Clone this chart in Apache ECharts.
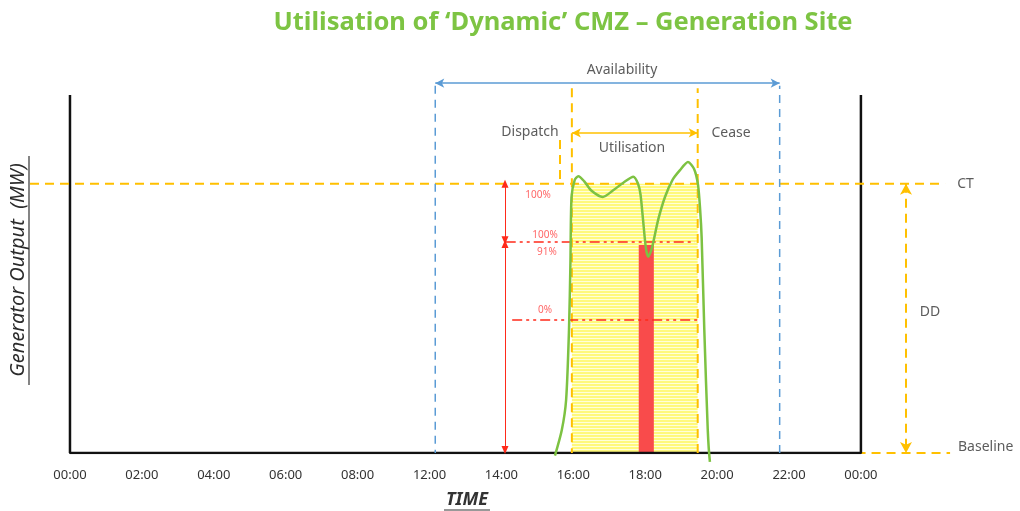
<!DOCTYPE html>
<html>
<head>
<meta charset="utf-8">
<script src="https://cdn.jsdelivr.net/npm/echarts@6/dist/echarts.min.js"></script>
<style>
  html, body { margin: 0; padding: 0; background: #fff; }
  #box { width: 1020px; height: 511px; }
</style>
</head>
<body>
<div id="box"></div>
<script>
// x is in tick steps (0 = first 00:00, 11 = last 00:00), y is % of CT
var timeLabels = ["00:00", "02:00", "04:00", "06:00", "08:00", "12:00", "14:00", "16:00", "18:00", "20:00", "22:00", "00:00"];

// generator output curve
var outputX = [6.745, 6.84, 6.90, 6.94, 6.96, 6.975, 7.02, 7.07, 7.15, 7.25, 7.41, 7.55, 7.7, 7.835, 7.9, 7.935, 7.97, 8.01, 8.043, 8.08, 8.11, 8.18, 8.275, 8.38, 8.484, 8.595, 8.68, 8.735, 8.765, 8.785, 8.822, 8.87, 8.9];
var outputY = [-1, 8.5, 19.7, 45.7, 70.6, 95, 101.5, 102.8, 101, 97.5, 95.1, 97.5, 100.5, 102.6, 100, 96, 86.6, 76, 72.9, 75, 78, 86.6, 95.1, 101.5, 105.1, 108.1, 105.5, 99.5, 90, 80, 45.7, 8.5, -3.3];

var ctLevel = 100;
var baselineLevel = 0;
var frameTop = 133;
var availability = [5.08, 9.87];
var availabilityLevel = 137.4;
var utilisation = [6.98, 8.73];
var utilisationArrowLevel = 118.9;
var windowTop = 135.5;
var dispatchX = 6.815;
var dispatchTop = 116.3;
var deliveredX = [7.91, 8.12];
var deliveredLevel = 77.3;
var redLevels = [78.4, 49.4];
var redLineX = [[6.06, 8.69], [6.15, 8.73]];
var redArrowX = 6.05;
var ctLineX = [-0.556, 12.17];
var baseLineX = [0.3, 12.24];
var ddX = 11.627;

// text notes: [x, y, text]
var blackNotes = [
  [7.677, 142.3, "Availability"],
  [6.398, 119.2, "Dispatch"],
  [9.193, 118.9, "Cease"],
  [7.816, 113.3, "Utilisation"],
  [11.96, 52.4, "DD"]
];
var sideNotes = [
  [12.34, 100, "CT"],
  [12.35, 2.2, "Baseline"]
];
var redNotes = [
  [6.509, 95.8, "100%"],
  [6.606, 81, "100%"],
  [6.634, 74.7, "91%"],
  [6.606, 53.1, "0%"]
];

function pair(xs, ys) {
  return xs.map(function (x, i) { return [x, ys[i]]; });
}

// striped yellow fill
var stripe = document.createElement("canvas");
stripe.width = 4;
stripe.height = 3;
var sctx = stripe.getContext("2d");
sctx.fillStyle = "#FFF97C";
sctx.fillRect(0, 0, 4, 2);
sctx.fillStyle = "#FFFFD8";
sctx.fillRect(0, 2, 4, 1);

var font = "'Noto Sans', 'Open Sans', sans-serif";
var orange = "#FFC000";
var blue = "#5B9BD5";
var red = "#FF2A1A";

var myChart = echarts.init(document.getElementById("box"));
var option = {
  animation: false,
  title: {
    text: "Utilisation of \u2018Dynamic\u2019 CMZ \u2013 Generation Site",
    left: 558,
    textAlign: "center",
    top: 5,
    textStyle: { color: "#7DC443", fontSize: 25.5, fontWeight: "bold", fontFamily: font }
  },
  grid: { left: 30, right: 60, top: 60, bottom: 58 },
  xAxis: {
    type: "value",
    min: -0.556,
    max: 12.378,
    axisLine: { show: false },
    axisTick: { show: false },
    splitLine: { show: false },
    axisLabel: {
      customValues: timeLabels.map(function (t, i) { return i; }),
      formatter: function (v) { return timeLabels[Math.round(v)]; },
      margin: 16,
      color: "#333",
      fontSize: 13,
      fontFamily: font
    }
  },
  yAxis: {
    type: "value",
    min: 0,
    max: 146,
    show: false
  },
  graphic: [
    {
      type: "text",
      x: 18, y: 270, rotation: Math.PI / 2,
      style: { text: "Generator Output  (MW)", font: "italic 20px " + font, fill: "#2b2b2b", align: "center", verticalAlign: "middle" }
    },
    { type: "line", shape: { x1: 29, y1: 156, x2: 29, y2: 385 }, style: { stroke: "#333", lineWidth: 1.2 } },
    {
      type: "text",
      x: 467, y: 500,
      style: { text: "TIME", font: "italic bold 18px " + font, fill: "#333", align: "center", verticalAlign: "middle" }
    },
    { type: "line", shape: { x1: 444, y1: 510, x2: 490, y2: 510 }, style: { stroke: "#333", lineWidth: 1.2 } }
  ],
  series: [
    {
      name: "utilisation fill",
      type: "line",
      data: [[utilisation[0], ctLevel], [utilisation[1], ctLevel]],
      symbol: "none",
      lineStyle: { width: 0 },
      areaStyle: { color: { image: stripe, repeat: "repeat" }, opacity: 1 },
      z: 1
    },
    {
      name: "delivered",
      type: "line",
      data: [[deliveredX[0], deliveredLevel], [deliveredX[1], deliveredLevel]],
      symbol: "none",
      lineStyle: { width: 0 },
      areaStyle: { color: "#F94B4B", opacity: 1 },
      z: 2
    },
    {
      name: "frame",
      type: "line",
      data: [[0, frameTop], [0, baselineLevel], [11, baselineLevel], [11, frameTop]],
      symbol: "none",
      lineStyle: { color: "#111", width: 2.5 },
      z: 3
    },
    {
      name: "CT",
      type: "line",
      clip: false,
      data: [[ctLineX[0], ctLevel], [ctLineX[1], ctLevel]],
      symbol: "none",
      lineStyle: { color: orange, width: 2, type: [9, 6] },
      z: 4
    },
    {
      name: "Baseline",
      type: "line",
      clip: false,
      data: [[baseLineX[0], baselineLevel], [baseLineX[1], baselineLevel]],
      symbol: "none",
      lineStyle: { color: orange, width: 2, type: [9, 6] },
      z: 2,
      markLine: {
        symbol: ["arrow", "arrow"],
        symbolSize: [9, 11],
        label: { show: false },
        lineStyle: { color: orange, width: 2, type: [9, 6] },
        data: [[{ coord: [ddX, ctLevel] }, { coord: [ddX, baselineLevel] }]]
      }
    },
    {
      name: "utilisation window",
      type: "line",
      data: [[utilisation[0], windowTop], [utilisation[0], baselineLevel], null, [utilisation[1], baselineLevel], [utilisation[1], windowTop], null, [dispatchX, dispatchTop], [dispatchX, ctLevel]],
      connectNulls: false,
      symbol: "none",
      lineStyle: { color: orange, width: 2, type: [9, 6] },
      z: 4,
      markLine: {
        symbol: ["arrow", "arrow"],
        symbolSize: [7, 9],
        label: { show: false },
        lineStyle: { color: orange, width: 1.5, type: "solid" },
        data: [[{ coord: [utilisation[0], utilisationArrowLevel] }, { coord: [utilisation[1], utilisationArrowLevel] }]]
      }
    },
    {
      name: "availability window",
      type: "line",
      data: [[availability[0], availabilityLevel - 1], [availability[0], baselineLevel], null, [availability[1], baselineLevel], [availability[1], availabilityLevel - 1]],
      connectNulls: false,
      symbol: "none",
      lineStyle: { color: blue, width: 1.5, type: [8, 6] },
      z: 4,
      markLine: {
        symbol: ["arrow", "arrow"],
        symbolSize: [7, 9],
        label: { show: false },
        lineStyle: { color: blue, width: 1.5, type: "solid" },
        data: [[{ coord: [availability[0], availabilityLevel] }, { coord: [availability[1], availabilityLevel] }]]
      }
    },
    {
      name: "levels",
      type: "line",
      data: [[redLineX[0][0], redLevels[0]], [redLineX[0][1], redLevels[0]], null, [redLineX[1][0], redLevels[1]], [redLineX[1][1], redLevels[1]]],
      connectNulls: false,
      symbol: "none",
      lineStyle: { color: red, width: 1.5, type: [10, 4, 3, 4, 3, 4] },
      z: 5,
      markLine: {
        symbol: ["triangle", "triangle"],
        symbolSize: [7, 8],
        label: { show: false },
        lineStyle: { color: red, width: 1, type: "solid" },
        data: [
          [{ coord: [redArrowX, ctLevel] }, { coord: [redArrowX, redLevels[0] + 0.6] }],
          [{ coord: [redArrowX, redLevels[0] - 0.8] }, { coord: [redArrowX, 1.1] }]
        ]
      }
    },
    {
      name: "Generator Output",
      type: "line",
      clip: false,
      smooth: 0.25,
      data: pair(outputX, outputY),
      symbol: "none",
      lineStyle: { color: "#7DC242", width: 2.5 },
      z: 6
    },
    {
      name: "notes",
      type: "scatter",
      symbolSize: 0,
      clip: false,
      silent: true,
      data: blackNotes.map(function (n) { return { value: [n[0], n[1]], name: n[2] }; }),
      label: { show: true, position: "inside", formatter: "{b}", color: "#333", fontSize: 14, fontFamily: font },
      z: 7
    },
    {
      name: "side notes",
      type: "scatter",
      symbolSize: 0,
      clip: false,
      silent: true,
      data: sideNotes.map(function (n) { return { value: [n[0], n[1]], name: n[2] }; }),
      label: { show: true, position: "right", distance: 0, formatter: "{b}", color: "#333", fontSize: 14, fontFamily: font },
      z: 7
    },
    {
      name: "red notes",
      type: "scatter",
      symbolSize: 0,
      clip: false,
      silent: true,
      data: redNotes.map(function (n) { return { value: [n[0], n[1]], name: n[2] }; }),
      label: { show: true, position: "inside", formatter: "{b}", color: "#FF4040", fontSize: 10, fontFamily: font },
      z: 7
    }
  ]
};
myChart.setOption(option);
</script>
</body>
</html>
